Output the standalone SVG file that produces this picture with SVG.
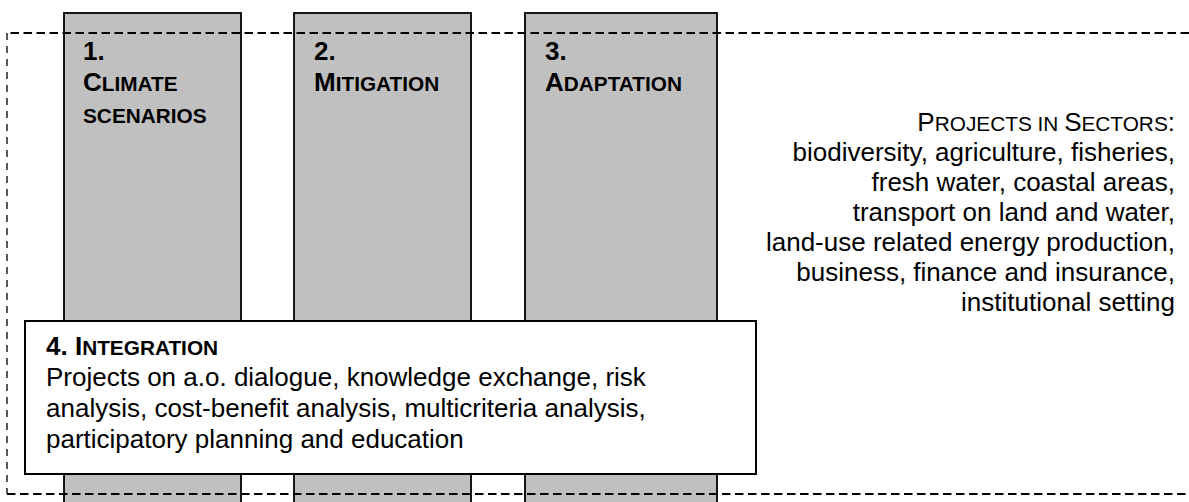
<svg xmlns="http://www.w3.org/2000/svg" width="1189" height="502" viewBox="0 0 1189 502">
<style>
.col{fill:#C0C0C0;stroke:#000;stroke-width:1.8}
.box{fill:#fff;stroke:#000;stroke-width:2}
.frame{fill:none;stroke:#000;stroke-width:2;stroke-dasharray:8.5 4.5}
.frame-side{fill:none;stroke:#000;stroke-width:1.3;stroke-dasharray:7 6}
.h{font-family:"Liberation Sans",Arial,sans-serif;font-weight:bold;font-size:26px;fill:#000}
.t{font-family:"Liberation Sans",Arial,sans-serif;font-size:26px;fill:#000}
.sc{font-size:20.8px}
</style>
<rect width="1189" height="502" fill="#fff"/>
<g id="climate-scenarios">
<rect class="col" x="64" y="13" width="177" height="500"/>
<text class="h" x="83" y="60">1.</text>
<text class="h" x="83" y="91">C<tspan class="sc">LIMATE</tspan></text>
<text class="h" x="83" y="123"><tspan class="sc">SCENARIOS</tspan></text>
</g>
<g id="mitigation">
<rect class="col" x="294" y="13" width="177" height="500"/>
<text class="h" x="314" y="60">2.</text>
<text class="h" x="314" y="91">M<tspan class="sc">ITIGATION</tspan></text>
</g>
<g id="adaptation">
<rect class="col" x="525" y="13" width="192" height="500"/>
<text class="h" x="545" y="60">3.</text>
<text class="h" x="545" y="91">A<tspan class="sc">DAPTATION</tspan></text>
</g>
<g id="integration">
<rect class="box" x="25" y="321" width="731" height="153"/>
<text class="h" x="46" y="355">4. I<tspan class="sc">NTEGRATION</tspan></text>
<text class="t" x="46" y="386">Projects on a.o. dialogue, knowledge exchange, risk</text>
<text class="t" x="46" y="417">analysis, cost-benefit analysis, multicriteria analysis,</text>
<text class="t" x="46" y="448">participatory planning and education</text>
</g>
<g id="sectors">
<path class="frame" d="M1189,33 H7"/>
<path class="frame" d="M7,494 H1189"/>
<path class="frame-side" d="M7,33 V494"/>
<g class="t" text-anchor="end">
<text x="1175" y="131">P<tspan class="sc">ROJECTS IN </tspan>S<tspan class="sc">ECTORS</tspan>:</text>
<text x="1175" y="161">biodiversity, agriculture, fisheries,</text>
<text x="1175" y="191">fresh water, coastal areas,</text>
<text x="1175" y="221">transport on land and water,</text>
<text x="1175" y="251">land-use related energy production,</text>
<text x="1175" y="281">business, finance and insurance,</text>
<text x="1175" y="311">institutional setting</text>
</g>
</g>
<g id="connectors"/>
</svg>
